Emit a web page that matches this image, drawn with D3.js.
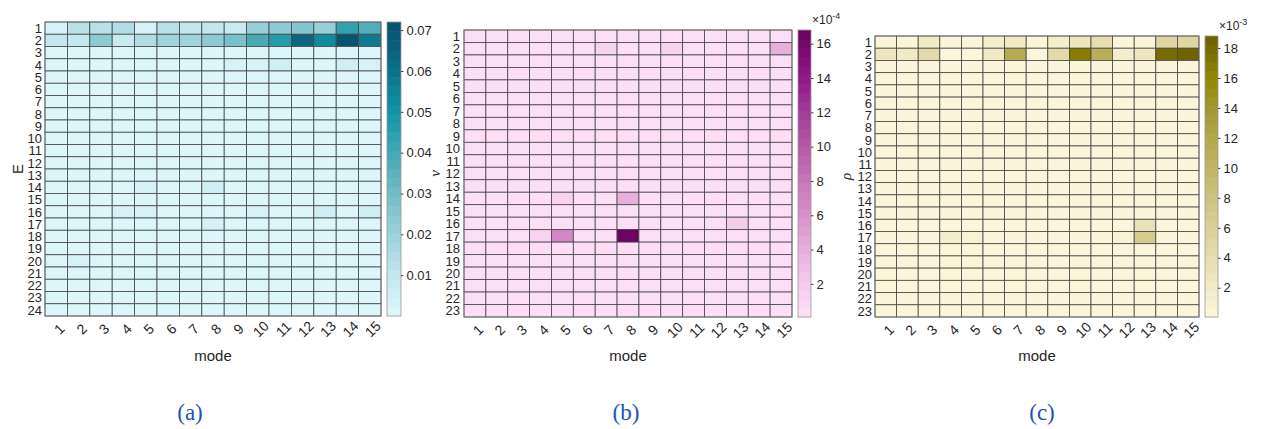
<!DOCTYPE html>
<html><head><meta charset="utf-8">
<script src="https://cdn.jsdelivr.net/npm/d3@7"></script>
<style>body{margin:0;background:#fff;} svg{display:block;font-family:"Liberation Sans",Arial,sans-serif;}</style>
</head><body>
<svg id="chart" width="1263" height="429"></svg>
<script>
// ---------- data ----------
const modes = d3.range(1, 16).map(String);
const rowsE = d3.range(1, 25).map(String);
const rowsNu = d3.range(1, 24).map(String);
const rowsRho = d3.range(1, 24).map(String);

// Panel (a): E sensitivity (rows 1..24, modes 1..15)
const valuesE = [
  [0.004,0.013,0.012,0.015,0.004,0.012,0.011,0.009,0.007,0.022,0.024,0.026,0.022,0.043,0.038],
  [0.011,0.009,0.024,0.008,0.014,0.019,0.020,0.024,0.027,0.040,0.045,0.064,0.052,0.071,0.058],
  [0.001,0.001,0.001,0.001,0.001,0.001,0.001,0.001,0.001,0.001,0.001,0.001,0.001,0.001,0.001],
  [0.001,0.001,0.001,0.001,0.001,0.001,0.001,0.001,0.004,0.004,0.005,0.002,0.002,0.006,0.004],
  [0.001,0.001,0.001,0.001,0.001,0.001,0.001,0.001,0.001,0.001,0.001,0.001,0.001,0.001,0.001],
  [0.001,0.001,0.001,0.001,0.001,0.001,0.001,0.001,0.001,0.001,0.001,0.001,0.001,0.001,0.001],
  [0.001,0.001,0.001,0.001,0.001,0.001,0.001,0.001,0.001,0.001,0.001,0.001,0.001,0.001,0.001],
  [0.001,0.001,0.001,0.001,0.001,0.001,0.001,0.001,0.001,0.001,0.001,0.001,0.001,0.001,0.001],
  [0.001,0.001,0.001,0.001,0.001,0.001,0.001,0.001,0.001,0.001,0.001,0.001,0.001,0.001,0.001],
  [0.001,0.001,0.001,0.001,0.001,0.001,0.001,0.001,0.001,0.001,0.001,0.001,0.001,0.001,0.001],
  [0.001,0.001,0.001,0.001,0.001,0.001,0.001,0.001,0.001,0.001,0.001,0.001,0.001,0.001,0.001],
  [0.001,0.001,0.001,0.001,0.001,0.001,0.001,0.001,0.001,0.001,0.001,0.001,0.001,0.001,0.001],
  [0.001,0.001,0.001,0.001,0.001,0.001,0.001,0.001,0.001,0.001,0.001,0.001,0.001,0.001,0.001],
  [0.001,0.001,0.001,0.001,0.004,0.001,0.001,0.006,0.001,0.001,0.001,0.001,0.001,0.001,0.001],
  [0.001,0.001,0.001,0.001,0.001,0.001,0.001,0.001,0.001,0.001,0.001,0.001,0.001,0.001,0.001],
  [0.001,0.001,0.001,0.003,0.004,0.001,0.001,0.001,0.001,0.003,0.001,0.002,0.005,0.001,0.005],
  [0.001,0.001,0.001,0.001,0.001,0.001,0.001,0.004,0.001,0.001,0.001,0.001,0.001,0.001,0.001],
  [0.001,0.001,0.001,0.001,0.001,0.001,0.001,0.001,0.001,0.001,0.001,0.001,0.001,0.001,0.001],
  [0.001,0.001,0.001,0.001,0.001,0.001,0.001,0.001,0.001,0.001,0.001,0.001,0.001,0.001,0.001],
  [0.001,0.004,0.001,0.001,0.001,0.001,0.001,0.001,0.001,0.001,0.001,0.001,0.001,0.001,0.001],
  [0.001,0.001,0.001,0.001,0.001,0.001,0.001,0.001,0.001,0.001,0.001,0.001,0.001,0.001,0.001],
  [0.001,0.001,0.001,0.001,0.001,0.001,0.001,0.001,0.001,0.001,0.001,0.001,0.001,0.001,0.001],
  [0.001,0.001,0.001,0.001,0.001,0.001,0.001,0.001,0.001,0.001,0.001,0.001,0.001,0.001,0.001],
  [0.001,0.001,0.001,0.001,0.001,0.001,0.001,0.001,0.001,0.001,0.001,0.001,0.001,0.001,0.001]
];

// Panel (b): nu sensitivity, units of 1e-4 (rows 1..23)
const valuesNu = [
  [0.1,0.1,0.1,0.1,0.1,0.1,0.1,0.1,0.1,0.1,0.1,0.1,0.1,0.1,0.1],
  [0.1,0.1,0.1,0.1,0.1,0.1,1.2,0.1,0.1,1.3,0.1,0.1,0.1,0.1,4.0],
  [0.1,0.1,0.1,0.1,0.1,0.1,0.1,0.1,0.1,0.1,0.1,0.1,0.1,0.1,0.1],
  [0.1,0.1,0.1,0.1,0.1,0.1,0.1,0.1,0.1,0.1,0.1,0.1,0.1,0.1,0.1],
  [0.1,0.1,0.1,0.1,0.1,0.1,0.1,0.1,0.1,0.1,0.1,0.1,0.1,0.1,0.1],
  [0.1,0.1,0.1,0.1,0.1,0.1,0.1,0.1,0.1,0.1,0.1,0.1,0.1,0.1,0.1],
  [0.1,0.1,0.1,0.1,0.1,0.1,0.1,0.1,0.1,0.1,0.1,0.1,0.1,0.1,0.1],
  [0.1,0.1,0.1,0.1,0.1,0.1,0.1,0.1,0.1,0.1,0.1,0.1,0.1,0.1,0.1],
  [0.1,0.1,0.1,0.1,0.1,0.1,0.1,0.1,0.1,0.1,0.1,0.1,0.1,0.1,0.1],
  [0.1,0.1,0.1,0.1,0.1,0.1,0.1,0.1,0.1,0.1,0.1,0.1,0.1,0.1,0.1],
  [0.1,0.1,0.1,0.1,0.1,0.1,0.1,0.1,0.1,0.1,0.1,0.1,0.1,0.1,0.1],
  [0.1,0.1,0.1,0.1,0.1,0.1,0.1,0.1,0.1,0.1,0.1,0.1,0.1,0.1,0.1],
  [0.1,0.1,0.1,0.1,0.1,0.1,0.1,0.1,0.1,0.1,0.1,0.1,0.1,0.1,0.1],
  [0.1,0.1,0.1,0.1,1.5,0.1,0.1,3.8,0.1,0.1,0.1,0.1,0.1,0.1,0.1],
  [0.1,0.1,0.1,0.1,0.1,0.1,0.1,0.1,0.1,0.1,0.1,0.1,0.1,0.1,0.1],
  [0.1,0.1,0.1,0.1,0.1,0.1,0.1,0.1,0.1,0.1,0.1,0.1,1.7,0.1,0.1],
  [0.1,0.1,0.1,1.4,6.8,0.1,0.1,16.8,0.1,0.1,0.1,0.1,0.1,0.1,0.1],
  [0.1,0.1,0.1,0.1,0.1,0.1,0.1,0.1,0.1,0.1,0.1,0.1,0.1,0.1,0.1],
  [0.1,0.1,0.1,0.1,0.1,0.1,0.1,0.1,0.1,0.1,0.1,0.1,0.1,0.1,0.1],
  [0.1,0.1,0.1,0.1,0.1,0.1,0.1,0.1,0.1,0.1,0.1,0.1,0.1,0.1,0.1],
  [0.1,0.1,0.1,0.1,0.1,0.1,0.1,0.1,0.1,0.1,0.1,0.1,0.1,0.1,0.1],
  [0.1,0.1,0.1,0.1,0.1,0.1,0.1,0.1,0.1,0.1,0.1,0.1,0.1,0.1,0.1],
  [0.1,0.1,0.1,0.1,0.1,0.1,0.1,0.1,0.1,0.1,0.1,0.1,0.1,0.1,0.1]
];

// Panel (c): rho sensitivity, units of 1e-3 (rows 1..23)
const valuesRho = [
  [0.5,0.5,2.0,0.3,0.3,1.5,2.2,0.3,1.5,2.5,4.0,0.4,0.4,5.0,5.0],
  [2.5,2.0,4.5,0.2,0.2,2.3,11.5,0.2,4.5,17.0,11.0,1.8,2.5,18.0,18.8],
  [0.2,0.2,0.2,0.2,0.2,0.2,0.2,0.2,0.2,0.2,0.2,0.2,0.2,0.2,0.2],
  [0.2,0.2,0.2,0.2,0.2,0.2,0.2,0.2,0.2,0.2,0.2,0.2,0.2,0.2,0.2],
  [0.2,0.2,0.2,0.2,0.2,0.2,0.2,0.2,0.2,0.2,0.2,0.2,0.2,0.2,0.2],
  [0.2,0.2,0.2,0.2,0.2,0.2,0.2,0.2,0.2,0.2,0.2,0.2,0.2,0.2,0.2],
  [0.2,0.2,0.2,0.2,0.2,0.2,0.2,0.2,0.2,0.2,0.2,0.2,0.2,0.2,0.2],
  [0.2,0.2,0.2,0.2,0.2,0.2,0.2,0.2,0.2,0.2,0.2,0.2,0.2,0.2,0.2],
  [0.2,0.2,0.2,0.2,0.2,0.2,0.2,0.2,0.2,0.2,0.2,0.2,0.2,0.2,0.2],
  [0.2,0.2,0.2,0.2,0.2,0.2,0.2,0.2,0.2,0.2,0.2,0.2,0.2,0.2,0.2],
  [0.2,0.2,0.2,0.2,0.2,0.2,0.2,0.2,0.2,0.2,0.2,0.2,0.2,0.2,0.2],
  [0.2,0.2,0.2,0.2,0.2,0.2,0.2,0.2,0.2,0.2,0.2,0.2,0.2,0.2,0.2],
  [0.2,0.2,0.2,0.2,0.2,0.2,0.2,0.2,0.2,0.2,0.2,0.2,0.2,0.2,0.2],
  [0.2,0.2,0.2,0.2,0.2,0.2,0.2,0.2,0.2,0.2,0.2,0.2,0.2,0.2,0.2],
  [0.2,0.2,0.2,0.2,0.2,0.2,0.2,0.2,0.2,0.2,0.2,0.2,0.2,0.2,0.2],
  [0.2,0.2,0.2,0.2,0.2,0.2,0.2,0.2,0.2,0.2,0.2,0.2,3.0,0.2,0.2],
  [0.2,0.2,0.2,1.5,1.2,0.2,0.2,0.2,0.2,0.2,0.2,1.0,7.0,0.2,0.2],
  [0.2,0.2,0.2,0.2,0.2,0.2,0.2,0.2,0.2,0.2,0.2,0.2,0.2,0.2,0.2],
  [0.2,0.2,0.2,0.2,0.2,0.2,0.2,0.2,0.2,0.2,0.2,0.2,0.2,0.2,0.2],
  [0.2,0.2,0.2,0.2,0.2,0.2,0.2,0.2,0.2,0.2,0.2,0.2,0.2,0.2,0.2],
  [0.2,0.2,0.2,0.2,0.2,0.2,0.2,0.2,0.2,0.2,0.2,0.2,0.2,0.2,0.2],
  [0.2,0.2,0.2,0.2,0.2,0.2,0.2,0.2,0.2,0.2,0.2,0.2,0.2,0.2,0.2],
  [0.2,0.2,0.2,0.2,0.2,0.2,0.2,0.2,0.2,0.2,0.2,0.2,0.2,0.2,0.2]
];

const ticksE = [0.01,0.02,0.03,0.04,0.05,0.06,0.07];
const ticksNu = [2,4,6,8,10,12,14,16];
const ticksRho = [2,4,6,8,10,12,14,16,18];
const captions = ["(a)","(b)","(c)"];

// ---------- layout / style ----------
const panels = [
  {rows: rowsE, values: valuesE, ticks: ticksE, fmt: d3.format(".2f"), domain: [0, 0.072],
   stops: [0,0.01,0.02,0.03,0.04,0.05,0.06,0.072],
   colors: ["#def9fc","#c2e7ec","#9dd2da","#72bcc7","#45a7b5","#1294a6","#0c7189","#07506d"],
   x0: 45, x1: 381, y0: 22, y1: 316, cb0: 387, cb1: 401, ylab: "E", ylabX: 18, italic: false,
   ytickX: 42, expo: null, cap: 0, capX: 190},
  {rows: rowsNu, values: valuesNu, ticks: ticksNu, fmt: d3.format("d"), domain: [0.07, 16.8],
   stops: [0.07,2,4,6,8,10,12,14,16.8],
   colors: ["#fde2f8","#f5cbed","#e8afdb","#d890ca","#c876b8","#b55aa7","#a23c98","#90198a","#6b005f"],
   x0: 464, x1: 792, y0: 30, y1: 317, cb0: 798, cb1: 811, ylab: "ν", ylabX: 435, italic: true,
   ytickX: 460, expo: "-4", cap: 1, capX: 626},
  {rows: rowsRho, values: valuesRho, ticks: ticksRho, fmt: d3.format("d"), domain: [0.05, 18.8],
   stops: [0.05,2,4,6,8,10,12,14,16,18.8],
   colors: ["#fdf8dd","#f2ebc7","#e6ddae","#d9d097","#ccc37f","#bfb566","#b1a74c","#a29730","#928600","#6b5f00"],
   x0: 875, x1: 1199, y0: 36, y1: 317, cb0: 1205, cb1: 1218, ylab: "ρ", ylabX: 846, italic: true,
   ytickX: 872, expo: "-3", cap: 2, capX: 1042}
];
const NSTEP = 32;
const svg = d3.select("#chart");

panels.forEach(p => {
  const g = svg.append("g");
  const x = d3.scaleBand().domain(modes).range([p.x0, p.x1]);
  const y = d3.scaleBand().domain(p.rows).range([p.y0, p.y1]);
  const lin = d3.scaleLinear().domain(p.stops).range(p.colors).interpolate(d3.interpolateRgb).clamp(true);
  const [lo, hi] = p.domain;
  const q = d3.scaleQuantize().domain([lo, hi]).range(d3.range(NSTEP));
  const color = v => lin(lo + (q(v) + 0.5) / NSTEP * (hi - lo));

  // cells
  const cells = [];
  p.values.forEach((row, i) => row.forEach((v, j) => cells.push({r: p.rows[i], c: modes[j], v})));
  g.selectAll("rect.cell").data(cells).join("rect")
    .attr("x", d => x(d.c)).attr("y", d => y(d.r))
    .attr("width", x.bandwidth()).attr("height", y.bandwidth())
    .attr("fill", d => color(d.v))
    .attr("stroke", "#474747").attr("stroke-width", 0.8);
  g.append("rect").attr("x", p.x0).attr("y", p.y0).attr("width", p.x1 - p.x0).attr("height", p.y1 - p.y0)
    .attr("fill", "none").attr("stroke", "#777").attr("stroke-width", 0.8);

  // y tick labels
  g.selectAll("text.yt").data(p.rows).join("text")
    .attr("x", p.ytickX).attr("y", d => y(d) + y.bandwidth() / 2)
    .attr("dy", "0.36em").attr("text-anchor", "end")
    .attr("font-size", 13).attr("fill", "#262626").text(d => d);

  // x tick labels rotated
  g.selectAll("text.xt").data(modes).join("text")
    .attr("transform", d => `translate(${x(d) + x.bandwidth() / 2 + 3},${p.y1 + 13}) rotate(-45)`)
    .attr("text-anchor", "middle").attr("dy", "0.36em")
    .attr("font-size", 14).attr("fill", "#262626").text(d => d);

  // axis labels
  g.append("text").attr("x", (p.x0 + p.x1) / 2).attr("y", 361).attr("text-anchor", "middle")
    .attr("font-size", 15).attr("fill", "#262626").text("mode");
  g.append("text").attr("transform", `translate(${p.ylabX},${(p.y0 + p.y1) / 2}) rotate(-90)`)
    .attr("text-anchor", "middle").attr("dy", "0.36em")
    .attr("font-size", 15).attr("font-style", p.italic ? "italic" : "normal")
    .attr("font-family", p.italic ? "'Liberation Serif','Times New Roman',serif" : null)
    .attr("fill", "#262626").text(p.ylab);

  // colorbar
  const cy = d3.scaleLinear().domain([lo, hi]).range([p.y1, p.y0]);
  const steps = d3.range(NSTEP);
  g.selectAll("rect.cb").data(steps).join("rect")
    .attr("x", p.cb0).attr("width", p.cb1 - p.cb0)
    .attr("y", i => cy(lo + (i + 1) / NSTEP * (hi - lo)))
    .attr("height", i => cy(lo + i / NSTEP * (hi - lo)) - cy(lo + (i + 1) / NSTEP * (hi - lo)) + 0.5)
    .attr("fill", i => lin(lo + (i + 0.5) / NSTEP * (hi - lo)));
  g.append("rect").attr("x", p.cb0).attr("y", p.y0).attr("width", p.cb1 - p.cb0).attr("height", p.y1 - p.y0)
    .attr("fill", "none").attr("stroke", "#999").attr("stroke-width", 0.8);
  const ax = d3.axisRight(cy).tickValues(p.ticks).tickFormat(p.fmt).tickSize(2.5).tickPadding(3);
  const axg = g.append("g").attr("transform", `translate(${p.cb1},0)`).call(ax);
  axg.select(".domain").remove();
  axg.selectAll("line").attr("stroke", "#444");
  axg.selectAll("text").attr("font-size", 13).attr("fill", "#262626")
    .attr("font-family", "'Liberation Sans',Arial,sans-serif");

  if (p.expo) {
    const t = g.append("text").attr("x", p.cb1 + 1).attr("y", p.y0 - 6).attr("font-size", 12).attr("fill", "#262626");
    t.append("tspan").text("×10");
    t.append("tspan").attr("dy", -5).attr("font-size", 9).text(p.expo);
  }

  // caption
  svg.append("text").attr("x", p.capX).attr("y", 420).attr("text-anchor", "middle")
    .attr("font-family", "'Liberation Serif','Times New Roman',serif").attr("font-size", 23)
    .attr("fill", "#1a56b3").text(captions[p.cap]);
});
</script>
</body></html>
